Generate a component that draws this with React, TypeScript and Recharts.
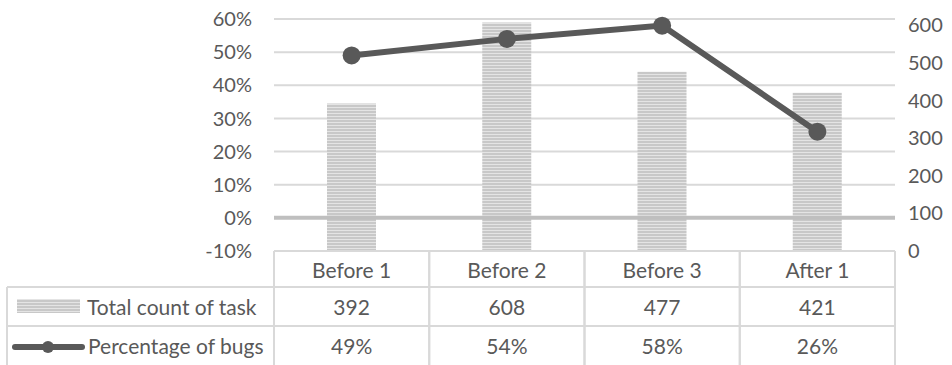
import { ComposedChart, Bar, Line, XAxis, YAxis, CartesianGrid, ReferenceLine } from "recharts";

const categories = ["Before 1", "Before 2", "Before 3", "After 1"];
const taskCounts = [392, 608, 477, 421];
const bugPercents = [49, 54, 58, 26];
const leftTicks = [-10, 0, 10, 20, 30, 40, 50, 60];
const rightTicks = [0, 100, 200, 300, 400, 500, 600];
const seriesNames = ["Total count of task", "Percentage of bugs"];

const W = 952;
const H = 365;
const LEFT_W = 274;
const RIGHT_W = 57;
const TOP = 19;
const AXIS_H = 114;
const PLOT_W = W - LEFT_W - RIGHT_W;

const TEXT = "#595959";
const BORDER = "#d9d9d9";
const FONT = 20;
const TABLE_FONT = 21;

const data = categories.map((name, i) => ({
  name,
  count: taskCounts[i],
  pct: bugPercents[i],
}));

// Excel-style data table drawn under each category
const TableTick = (props: any) => {
  const { x, y, index } = props;
  const bw = PLOT_W / categories.length;
  const x0 = x - bw / 2;
  const r1 = y + 36;
  const r2 = y + 75;
  const bottom = H + 2;
  return (
    <g>
      <line x1={x0} x2={x0} y1={y} y2={bottom} stroke={BORDER} strokeWidth={2} />
      <line x1={x0 + bw} x2={x0 + bw} y1={y} y2={bottom} stroke={BORDER} strokeWidth={2} />
      <line x1={x0} x2={x0 + bw} y1={r1} y2={r1} stroke={BORDER} strokeWidth={2} />
      <line x1={x0} x2={x0 + bw} y1={r2} y2={r2} stroke={BORDER} strokeWidth={2} />
      <text x={x} y={y + 18} textAnchor="middle" dominantBaseline="central" fill={TEXT} fontSize={TABLE_FONT}>
        {categories[index]}
      </text>
      <text x={x} y={y + 55} textAnchor="middle" dominantBaseline="central" fill={TEXT} fontSize={TABLE_FONT}>
        {taskCounts[index]}
      </text>
      <text x={x} y={y + 94} textAnchor="middle" dominantBaseline="central" fill={TEXT} fontSize={TABLE_FONT}>
        {bugPercents[index]}%
      </text>
      {index === 0 && (
        <g>
          <line x1={7} x2={x0} y1={r1} y2={r1} stroke={BORDER} strokeWidth={2} />
          <line x1={7} x2={x0} y1={r2} y2={r2} stroke={BORDER} strokeWidth={2} />
          <line x1={7} x2={7} y1={r1} y2={bottom} stroke={BORDER} strokeWidth={2} />
          <rect x={17} y={r1 + 12} width={63} height={14} fill="url(#stripes)" />
          <text x={87} y={y + 55} dominantBaseline="central" fill={TEXT} fontSize={TABLE_FONT}>
            {seriesNames[0]}
          </text>
          <line x1={15} x2={82} y1={y + 96} y2={y + 96} stroke={TEXT} strokeWidth={6} strokeLinecap="round" />
          <circle cx={48} cy={y + 96} r={6} fill={TEXT} />
          <text x={88} y={y + 94} dominantBaseline="central" fill={TEXT} fontSize={TABLE_FONT}>
            {seriesNames[1]}
          </text>
        </g>
      )}
    </g>
  );
};

export default function App() {
  return (
    <div style={{ position: "absolute", left: 0, top: 0, fontFamily: "Lato, sans-serif", background: "#fff" }}>
      <ComposedChart width={W} height={H} data={data} margin={{ top: TOP, right: 0, bottom: 0, left: 0 }}>
        <defs>
          <pattern id="stripes" width={4} height={3} patternUnits="userSpaceOnUse">
            <rect width={4} height={3} fill="#c8c8c8" />
            <rect y={2} width={4} height={1} fill="#e4e4e4" />
          </pattern>
        </defs>
        <CartesianGrid yAxisId="left" vertical={false} stroke={BORDER} strokeWidth={2} />
        <XAxis
          dataKey="name"
          height={AXIS_H}
          interval={0}
          tickSize={0}
          tickMargin={0}
          axisLine={{ stroke: BORDER, strokeWidth: 2 }}
          tickLine={false}
          tick={<TableTick />}
        />
        <YAxis
          yAxisId="left"
          width={LEFT_W}
          domain={[-10, 60]}
          ticks={leftTicks}
          tickFormatter={(v: number) => `${v}%`}
          axisLine={false}
          tickLine={false}
          tickSize={0}
          tickMargin={22}
          tick={{ fill: TEXT, fontSize: FONT }}
        />
        <YAxis
          yAxisId="right"
          orientation="right"
          width={RIGHT_W}
          domain={[0, 617]}
          ticks={rightTicks}
          axisLine={false}
          tickLine={false}
          tickSize={0}
          tickMargin={13}
          tick={{ fill: TEXT, fontSize: FONT }}
        />
        <ReferenceLine yAxisId="left" y={0} stroke="#bfbfbf" strokeWidth={4} />
        <Bar yAxisId="right" dataKey="count" barSize={49} fill="url(#stripes)" isAnimationActive={false} />
        <Line
          yAxisId="left"
          dataKey="pct"
          type="linear"
          stroke={TEXT}
          strokeWidth={6}
          dot={{ r: 9, fill: TEXT, stroke: "none" }}
          activeDot={false}
          isAnimationActive={false}
        />
      </ComposedChart>
    </div>
  );
}
